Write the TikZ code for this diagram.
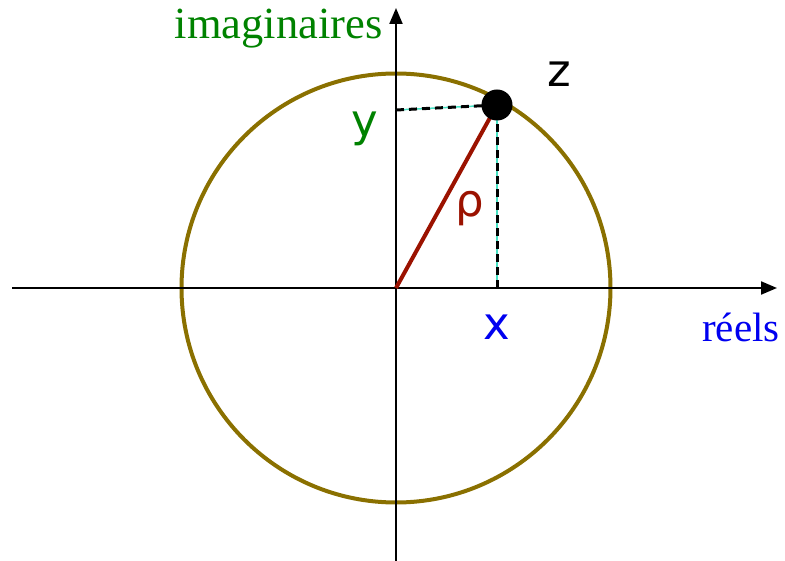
\documentclass[tikz,border=0pt]{standalone}
\usepackage{fontspec}
\setmainfont{Liberation Serif}
\newfontfamily\lblfont{DejaVu Sans}
\usetikzlibrary{arrows.meta}
\definecolor{circcol}{RGB}{138,112,0}
\definecolor{radcol}{RGB}{155,18,0}
\definecolor{imgreen}{RGB}{0,130,0}
\definecolor{reblue}{RGB}{0,0,240}
\definecolor{dashcyan}{RGB}{70,225,195}
\tikzset{
  axis/.style={line width=2.2pt,-{Triangle[length=16pt,width=13pt]}},
  helper/.style={line width=3pt,black,dash pattern=on 8pt off 5pt},
  helperbg/.style={line width=1.5pt,dashcyan},
  serifl/.style={anchor=base,inner sep=0pt},
  sansl/.style={anchor=base,inner sep=0pt,font=\lblfont\fontsize{45}{45}\selectfont}
}
\begin{document}
\begin{tikzpicture}[x=1pt,y=-1pt]
\useasboundingbox (0,0) rectangle (785,561);
\coordinate (O) at (396,288);
\coordinate (L) at (12,288);
\coordinate (R) at (777,288);
\coordinate (B) at (396,561);
\coordinate (T) at (396,8);
\coordinate (Z) at (497,105);
\coordinate (Y) at (396,110);
\coordinate (X) at (497,288);
\draw[circcol,line width=4pt] (O) circle[radius=214.5pt];
\draw[axis] (L) -- (R);
\draw[axis] (B) -- (T);
\draw[helperbg] (Y) -- (Z);
\draw[helper] (Y) -- (Z);
\draw[helperbg] (X) -- (Z);
\draw[helper] (X) -- (Z);
\draw[radcol,line width=4pt] (O) -- (Z);
\node[circle,fill=black,minimum size=31pt,inner sep=0pt] (zpt) at (Z) {};
\node[serifl,text=imgreen,font=\fontsize{44.5}{44.5}\selectfont] (im) at (278.5,39) {imaginaires};
\node[serifl,text=reblue,font=\fontsize{41}{41}\selectfont] (re) at (741,342) {réels};
\node[sansl,text=imgreen] (ylab) at (365,137) {y};
\node[sansl,text=reblue] (xlab) at (497,340) {x};
\node[sansl,text=black] (zlab) at (559,87) {z};
\node[sansl,text=radcol] (rholab) at (470,217) {ρ};
\end{tikzpicture}
\end{document}
